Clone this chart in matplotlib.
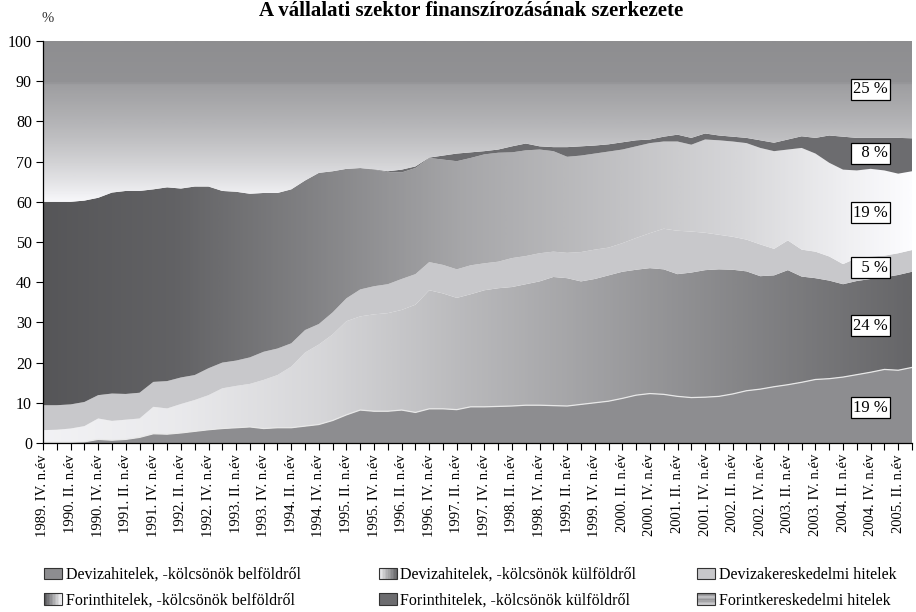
import numpy as np
import matplotlib
matplotlib.use("Agg")
import matplotlib.pyplot as plt
from matplotlib.colors import LinearSegmentedColormap
from matplotlib.patches import Rectangle, Patch
from matplotlib.legend_handler import HandlerBase

plt.rcParams['font.family'] = ['Liberation Serif', 'DejaVu Serif']

# ---------------- data ----------------
tick_labels = [
    "1989. IV. n.év",
    "1990. II. n.év", "1990. IV. n.év", "1991. II. n.év", "1991. IV. n.év",
    "1992. II. n.év", "1992. IV. n.év", "1993. II. n.év", "1993. IV. n.év",
    "1994. II. n.év", "1994. IV. n.év", "1995. II. n.év", "1995. IV. n.év",
    "1996. II. n.év", "1996. IV. n.év", "1997. II. n.év", "1997. IV. n.év",
    "1998. II. n.év", "1998. IV. n.év", "1999. II. n.év", "1999. IV. n.év",
    "2000. II. n.év", "2000. IV. n.év", "2001. II. n.év", "2001. IV. n.év",
    "2002. II. n.év", "2002. IV. n.év", "2003. II. n.év", "2003. IV. n.év",
    "2004. II. n.év", "2004. IV. n.év", "2005. II. n.év",
]

series_names = [
    "Devizahitelek, -kölcsönök belföldről",
    "Devizahitelek, -kölcsönök külföldről",
    "Devizakereskedelmi hitelek",
    "Forinthitelek, -kölcsönök belföldről",
    "Forinthitelek, -kölcsönök külföldről",
    "Forintkereskedelmi hitelek",
]

deviza_belfold = [0.2, 0.2, 0.2, 0.3, 0.9, 0.7, 0.9, 1.4, 2.3, 2.2, 2.5, 2.9, 3.3, 3.6, 3.8, 4.0,
                  3.6, 3.8, 3.8, 4.2, 4.6, 5.6, 7.0, 8.2, 7.9, 7.9, 8.2, 7.6, 8.5, 8.5, 8.3, 9.0,
                  9.0, 9.1, 9.2, 9.4, 9.4, 9.3, 9.2, 9.6, 10.0, 10.4, 11.1, 11.9, 12.3, 12.1, 11.6, 11.3,
                  11.4, 11.6, 12.2, 13.0, 13.4, 14.0, 14.5, 15.1, 15.8, 16.0, 16.4, 17.0, 17.6, 18.3, 18.1, 18.8]
deviza_kulfold = [3.0, 3.1, 3.4, 3.9, 5.2, 4.8, 4.9, 4.7, 6.7, 6.4, 7.2, 7.8, 8.6, 10.0, 10.4, 10.7,
                  12.1, 13.1, 15.2, 18.3, 19.9, 21.4, 23.3, 23.3, 24.1, 24.4, 24.9, 26.8, 29.5, 28.7, 27.8, 28.0,
                  29.0, 29.4, 29.6, 30.1, 30.8, 32.0, 31.8, 30.6, 30.8, 31.3, 31.5, 31.2, 31.2, 31.1, 30.4, 31.1,
                  31.6, 31.6, 30.9, 29.7, 28.1, 27.7, 28.5, 26.3, 25.2, 24.4, 23.1, 23.3, 23.2, 22.9, 23.7, 23.8]
deviza_keresk = [6.2, 6.1, 6.0, 6.0, 5.8, 6.8, 6.4, 6.4, 6.2, 6.8, 6.6, 6.2, 6.7, 6.4, 6.3, 6.6,
                 7.0, 6.6, 5.8, 5.6, 5.1, 5.5, 5.7, 6.7, 7.0, 7.2, 7.7, 7.6, 7.0, 7.1, 7.1, 7.2,
                 6.7, 6.6, 7.2, 7.0, 7.0, 6.3, 6.3, 7.3, 7.3, 6.9, 7.1, 7.9, 8.7, 10.1, 10.8, 10.2,
                 9.3, 8.6, 8.2, 7.9, 7.9, 6.6, 7.4, 6.7, 6.6, 6.0, 5.0, 5.7, 5.6, 5.4, 5.4, 5.4]
forint_belfold = [50.6, 50.6, 50.4, 50.1, 49.1, 50.0, 50.5, 50.2, 47.9, 48.2, 47.0, 46.9, 45.2, 42.7, 42.0, 40.7,
                  39.5, 38.7, 38.3, 37.2, 37.6, 35.1, 32.2, 30.2, 29.0, 27.9, 26.5, 26.4, 25.9, 26.2, 26.9, 26.7,
                  27.1, 27.1, 26.3, 26.3, 25.8, 25.0, 23.9, 24.0, 23.9, 23.9, 23.3, 22.8, 22.4, 21.7, 22.2, 21.6,
                  23.2, 23.5, 23.7, 24.0, 24.0, 24.3, 22.6, 25.3, 24.4, 23.3, 23.5, 21.8, 21.8, 21.2, 19.8, 19.6]
forint_kulfold = [0.0, 0.0, 0.0, 0.0, 0.0, 0.0, 0.0, 0.0, 0.0, 0.0, 0.0, 0.0, 0.0, 0.0, 0.0, 0.0,
                  0.0, 0.0, 0.0, 0.0, 0.0, 0.0, 0.0, 0.0, 0.1, 0.2, 0.7, 0.4, 0.1, 1.0, 1.9, 1.4,
                  0.8, 0.8, 1.5, 1.7, 0.8, 1.0, 2.4, 2.3, 2.0, 1.8, 1.8, 1.5, 0.9, 1.2, 1.7, 1.7,
                  1.5, 1.2, 1.2, 1.3, 1.9, 2.1, 2.5, 2.9, 3.9, 6.8, 8.2, 8.1, 7.7, 8.1, 8.9, 8.2]
forint_keresk = [40.0, 40.0, 40.0, 39.7, 39.0, 37.7, 37.3, 37.3, 36.9, 36.4, 36.7, 36.2, 36.2, 37.3, 37.5, 38.0,
                 37.8, 37.8, 36.9, 34.7, 32.8, 32.4, 31.8, 31.6, 31.9, 32.4, 32.0, 31.2, 29.0, 28.5, 28.0, 27.7,
                 27.4, 27.0, 26.2, 25.5, 26.2, 26.4, 26.4, 26.2, 26.0, 25.7, 25.2, 24.7, 24.5, 23.8, 23.3, 24.1,
                 23.0, 23.5, 23.8, 24.1, 24.7, 25.3, 24.5, 23.7, 24.1, 23.5, 23.8, 24.1, 24.1, 24.1, 24.1, 24.2]

end_labels = ["19 %", "24 %", "\u20075 %", "19 %", "\u20078 %", "25 %"]
label_quarter = 60

# ---------------- figure ----------------
W, H = 916, 612
fig = plt.figure(figsize=(W / 100, H / 100), dpi=100)
fig.patch.set_facecolor("white")
ax = fig.add_axes([43 / W, 1 - 443 / H, (912 - 43) / W, (443 - 41) / H])

layers = [deviza_belfold, deviza_kulfold, deviza_keresk, forint_belfold, forint_kulfold, forint_keresk]
n = len(deviza_belfold)
x = np.arange(n)
xmax = n - 1


def gray(v):
    return (v / 255, v / 255, min(1.0, v / 255 + 0.01))


def cmap_from(stops):
    return LinearSegmentedColormap.from_list("g", [(p, gray(v)) for p, v in stops])


# style of each layer: ('solid', gray) | ('h', stops over x) | ('v', stops over y)
styles = [
    ("solid", 141),
    ("h", [(0.0, 242), (0.15, 234), (0.32, 214), (0.48, 186), (0.64, 160), (0.8, 134), (1.0, 102)]),
    ("solid", 200),
    ("h", [(0.0, 86), (0.15, 98), (0.3, 128), (0.48, 166), (0.64, 190), (0.8, 214), (0.92, 238), (1.0, 252)]),
    ("solid", 108),
    ("v", [(0.0, 250), (0.6, 248), (0.65, 228), (0.7, 210), (0.75, 194), (0.8, 180), (0.85, 168),
           (0.895, 158), (0.9, 146), (1.0, 142)]),
]

lower = np.zeros(n)
bounds = []
for vals, st in zip(layers, styles):
    upper = lower + np.asarray(vals, dtype=float)
    bounds.append((lower.copy(), upper.copy()))
    if st[0] == "solid":
        ax.fill_between(x, lower, upper, facecolor=gray(st[1]), edgecolor="none", linewidth=0, zorder=2)
    else:
        poly = ax.fill_between(x, lower, upper, facecolor="none", edgecolor="none", linewidth=0)
        if st[0] == "h":
            grad = np.linspace(0, 1, 400).reshape(1, -1)
        else:
            grad = np.linspace(0, 1, 400).reshape(-1, 1)
        im = ax.imshow(grad, extent=[0, xmax, 0, 100], origin="lower", aspect="auto",
                       cmap=cmap_from(st[1]), vmin=0, vmax=1, zorder=2, interpolation="bilinear")
        im.set_clip_path(poly.get_paths()[0], transform=ax.transData)
    lower = upper

# thin light line on top of the bottom layer
ax.plot(x, bounds[0][1], color="#e8e8e8", lw=0.9, zorder=3)

# boxed end labels
for (lo, up), txt in zip(bounds, end_labels):
    ymid = (lo[label_quarter] + up[label_quarter]) / 2
    ax.text(label_quarter, ymid, txt, ha="center", va="center", fontsize=12, zorder=5,
            bbox=dict(boxstyle="square,pad=0.14", fc="white", ec="black", lw=0.9))

ax.set_xlim(0, xmax)
ax.set_ylim(0, 100)
ax.set_yticks(np.arange(0, 101, 10))
ax.set_xticks(x)
xl = []
for i in range(n):
    if i % 2 == 0 and i // 2 < len(tick_labels):
        xl.append(tick_labels[i // 2])
    else:
        xl.append("")
ax.set_xticklabels(xl, rotation=90, fontsize=10.5)
ax.tick_params(axis="y", direction="out", length=5, width=0.8, labelsize=11.5, pad=3)
ax.tick_params(axis="x", direction="out", length=5, width=0.8, pad=3)
for s in ["top", "right"]:
    ax.spines[s].set_visible(False)
for s in ["left", "bottom"]:
    ax.spines[s].set_linewidth(0.9)
    ax.spines[s].set_zorder(6)

fig.text(42 / W, 1 - 18 / H, "%", ha="left", va="center", fontsize=10.5, color="#333333")
fig.text(471 / W, 1 - 16 / H, "A vállalati szektor finanszírozásának szerkezete",
         ha="center", va="baseline", fontsize=15, fontweight="bold")


# ---------------- legend ----------------
class GradHandler(HandlerBase):
    def __init__(self, levels, vertical=False):
        super().__init__()
        self.levels = levels
        self.vertical = vertical

    def create_artists(self, legend, orig_handle, xdescent, ydescent, width, height, fontsize, trans):
        arts = []
        k = len(self.levels)
        for j, v in enumerate(self.levels):
            if self.vertical:
                r = Rectangle((-xdescent, -ydescent + height * j / k), width, height / k,
                              fc=gray(v), ec="none", transform=trans)
            else:
                r = Rectangle((-xdescent + width * j / k, -ydescent), width / k, height,
                              fc=gray(v), ec="none", transform=trans)
            arts.append(r)
        arts.append(Rectangle((-xdescent, -ydescent), width, height, fc="none", ec="#333333",
                              lw=0.8, transform=trans))
        return arts


handles = [Patch(label=nm) for nm in series_names]
hmap = {
    handles[0]: GradHandler([141]),
    handles[1]: GradHandler(list(np.linspace(240, 100, 12))),
    handles[2]: GradHandler([200]),
    handles[3]: GradHandler(list(np.linspace(90, 245, 12))),
    handles[4]: GradHandler([108]),
    handles[5]: GradHandler([200, 185, 165, 150, 170, 190, 160, 140], vertical=True),
}
leg_kw = dict(handler_map=hmap, loc="upper left", frameon=False,
              fontsize=11.5, handlelength=1.15, handleheight=0.7, handletextpad=0.2,
              labelspacing=0.6, borderpad=0, borderaxespad=0)
order12 = [0, 3, 1, 4]
leg1 = fig.legend([handles[i] for i in order12], [series_names[i] for i in order12],
                  ncol=2, columnspacing=4.9, bbox_to_anchor=(44 / W, 1 - 567 / H), **leg_kw)
order3 = [2, 5]
fig.legend([handles[i] for i in order3], [series_names[i] for i in order3],
           ncol=1, bbox_to_anchor=(697 / W, 1 - 567 / H), **leg_kw)

fig.savefig("out.png", dpi=100, facecolor="white")
